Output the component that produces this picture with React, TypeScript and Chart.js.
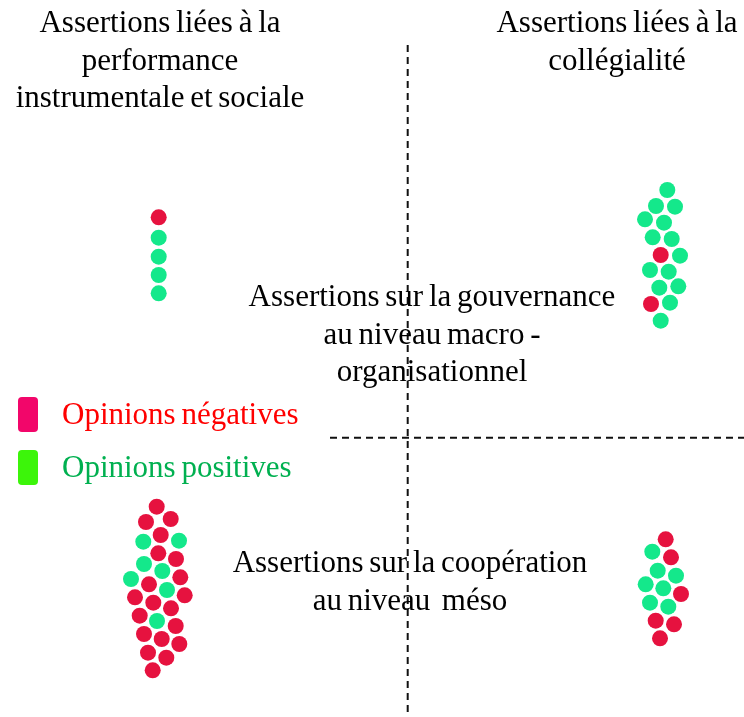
import React, { useEffect, useRef } from "react";
import { Chart, registerables } from "chart.js";

Chart.register(...registerables);

// Diagram coordinate space (x: 0..744 left→right, y: 0..717 top→bottom)
const negativeX = [
  158.7,
  660.7, 651,
  156.7, 146, 170.7, 160.7, 158.3, 176, 149, 180.3, 135, 184.7, 153.3, 171, 139.7, 175.7, 144, 161.7, 179.3, 148, 166.3, 152.7,
  665.7, 671, 681, 655.7, 674, 660,
];
const negativeY = [
  217.3,
  255, 304,
  506.7, 522, 519, 535, 553.3, 559, 584.3, 577.3, 597.3, 595.3, 602.7, 608.3, 615.7, 626, 634, 639, 644, 652.7, 657.7, 670.3,
  539.3, 557.3, 594, 620.7, 624.3, 638.3,
];
const positiveX = [
  158.7, 158.7, 158.7, 158.7,
  667.3, 656, 675, 645, 664, 652.7, 671.7, 680, 650, 668.7, 659.3, 678.3, 670, 660.7,
  143.3, 179, 144, 162.3, 131, 167, 157,
  652.3, 657.7, 676, 645.7, 663.3, 650, 668.3,
];
const positiveY = [
  237.7, 256.7, 275, 293.3,
  190, 206, 206.7, 219.3, 222.7, 237.3, 239, 255.7, 270, 271.7, 287.7, 286.3, 302.7, 320.7,
  541.7, 540.7, 564, 571, 579, 590, 621,
  551.7, 570.7, 575.7, 584.3, 588.3, 602.7, 606.7,
];

const blockLines = [
  ["Assertions liées à la", "performance", "instrumentale et sociale"],
  ["Assertions liées à la", "collégialité"],
  ["Assertions sur la gouvernance", "au niveau macro -", "organisationnel"],
  ["Assertions sur la coopération", "au niveau  méso"],
];
const blockX = [160, 617, 432, 410];
const blockY = [24, 24, 298, 564];

const legendLabels = ["Opinions négatives", "Opinions positives"];
const legendY = [416, 469];

const vLineX = [407.7, 407.7];
const vLineY = [45, 717];
const hLineX = [330, 744];
const hLineY = [437.7, 437.7];

const RED_DOT = "#E6123F";
const GREEN_DOT = "#14E88B";

const textPlugin = {
  id: "diagramText",
  afterDatasetsDraw(chart: any) {
    const { ctx, scales } = chart;
    const xs = scales.x;
    const ys = scales.y;
    ctx.save();
    ctx.font = "31px 'Liberation Serif', 'Times New Roman', serif";
    try { (ctx as any).wordSpacing = "-2px"; } catch (e) {}
    ctx.textAlign = "center";
    ctx.textBaseline = "middle";
    ctx.fillStyle = "#000";
    const lh = 37.5;
    blockLines.forEach((lines, i) => {
      lines.forEach((ln, j) => {
        const px = xs.getPixelForValue(blockX[i]);
        const py = ys.getPixelForValue(blockY[i] + j * lh);
        ctx.fillText(ln, px, py);
      });
    });
    // legend
    const swatch = ["#F2066A", "#3CF50A"];
    const txtCol = ["#FF0000", "#00B050"];
    legendLabels.forEach((lab, i) => {
      const sx = xs.getPixelForValue(18);
      const sy = ys.getPixelForValue(legendY[i] - 19);
      ctx.fillStyle = swatch[i];
      ctx.beginPath();
      (ctx as any).roundRect(sx, sy, 20, 35, 4);
      ctx.fill();
      ctx.fillStyle = txtCol[i];
      ctx.textAlign = "left";
      ctx.fillText(lab, xs.getPixelForValue(62), ys.getPixelForValue(legendY[i]));
    });
    ctx.restore();
  },
};

export default function App() {
  const ref = useRef<HTMLCanvasElement | null>(null);
  useEffect(() => {
    if (!ref.current) return;
    const toPts = (xs: number[], ys: number[]) => xs.map((x, i) => ({ x, y: ys[i] }));
    const chart = new Chart(ref.current, {
      type: "scatter",
      data: {
        datasets: [
          {
            type: "line" as any,
            data: toPts(vLineX, vLineY),
            borderColor: "#111",
            borderWidth: 2,
            borderDash: [7, 5],
            pointRadius: 0,
            showLine: true,
          } as any,
          {
            type: "line" as any,
            data: toPts(hLineX, hLineY),
            borderColor: "#111",
            borderWidth: 2,
            borderDash: [7, 5],
            pointRadius: 0,
            showLine: true,
          } as any,
          {
            data: toPts(negativeX, negativeY),
            backgroundColor: RED_DOT,
            borderWidth: 0,
            pointRadius: 8,
          },
          {
            data: toPts(positiveX, positiveY),
            backgroundColor: GREEN_DOT,
            borderWidth: 0,
            pointRadius: 8,
          },
        ],
      },
      options: {
        animation: false,
        responsive: false,
        layout: { padding: 0, autoPadding: false } as any,
        plugins: { legend: { display: false }, tooltip: { enabled: false } },
        scales: {
          x: { type: "linear", min: 0, max: 744, display: false },
          y: { type: "linear", min: 0, max: 717, reverse: true, display: false },
        },
        elements: { line: { tension: 0 } },
      },
      plugins: [textPlugin],
    });
    return () => chart.destroy();
  }, []);
  return (
    <div style={{ position: "fixed", left: 0, top: 0, width: 744, height: 717, background: "#fff" }}>
      <canvas ref={ref} width={744} height={717} style={{ width: 744, height: 717 }} />
    </div>
  );
}
